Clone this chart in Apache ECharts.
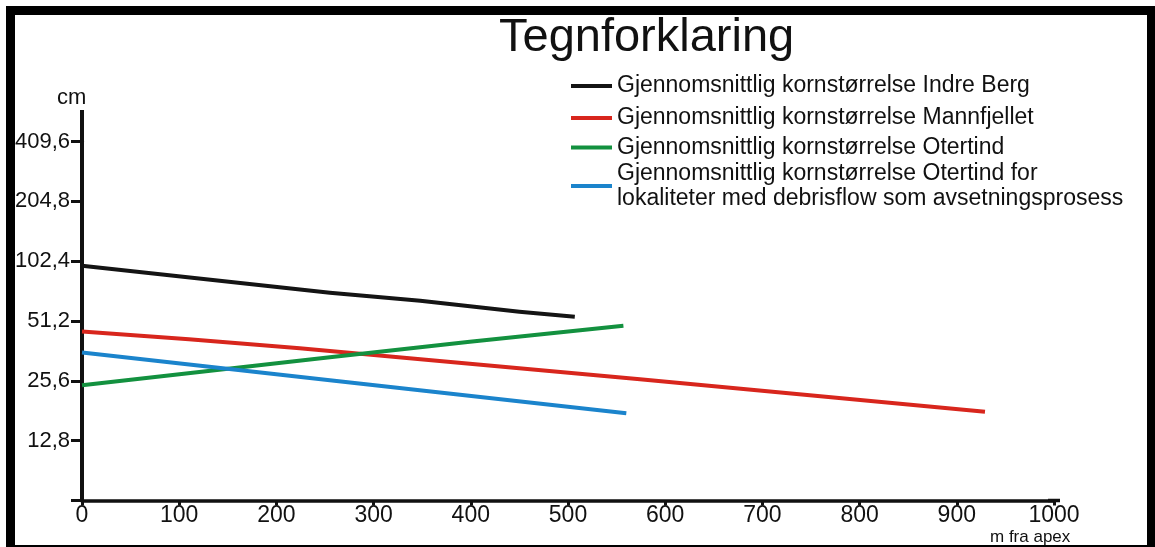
<!DOCTYPE html>
<html>
<head>
<meta charset="utf-8">
<title>Gjennomsnittlig kornstørrelse</title>
<script src="https://cdn.jsdelivr.net/npm/echarts@6/dist/echarts.min.js"></script>
<style>
  html, body { margin: 0; padding: 0; background: #ffffff; }
  #chart { width: 1155px; height: 547px; }
</style>
</head>
<body>
<div id="chart"></div>
<script>
// Distance from apex (m) and mean grain size (cm) for each site
const indreBergDist = [0, 255, 348, 450, 507];
const indreBergCm   = [97.1, 71.0, 64.8, 57.0, 53.8];

const mannfjelletDist = [0, 110, 224, 574, 929];
const mannfjelletCm   = [45.3, 41.5, 37.3, 26.1, 17.9];

const otertindDist = [0, 255, 399, 557];
const otertindCm   = [24.3, 33.6, 40.3, 48.5];

const otertindDebrisDist = [0, 255, 560];
const otertindDebrisCm   = [35.5, 25.8, 17.6];

// Axis ticks
const xTicks = [0, 100, 200, 300, 400, 500, 600, 700, 800, 900, 1000];
const yTicksCm = [12.8, 25.6, 51.2, 102.4, 204.8, 409.6];

const seriesNames = [
  'Gjennomsnittlig kornstørrelse Indre Berg',
  'Gjennomsnittlig kornstørrelse Mannfjellet',
  'Gjennomsnittlig kornstørrelse Otertind',
  'Gjennomsnittlig kornstørrelse Otertind for\nlokaliteter med debrisflow som avsetningsprosess'
];
const seriesColors = ['#141414', '#d8261d', '#13913f', '#1b84cc'];

// The doubling scale (12,8 · 25,6 · 51,2 ...) lands on powers of two in millimetres,
// so the log axis runs in mm and its labels are printed back in cm.
const MM_PER_CM = 10;
const toPairs = (dist, cm) => dist.map((d, i) => [d, cm[i] * MM_PER_CM]);

const FONT = "'Liberation Sans', Arial, Helvetica, sans-serif";
const INK = '#111111';

const chart = echarts.init(document.getElementById('chart'), null, { renderer: 'canvas' });

const makeSeries = (idx, dist, cm) => ({
  name: seriesNames[idx],
  type: 'line',
  data: toPairs(dist, cm),
  showSymbol: false,
  symbol: 'none',
  lineStyle: { color: seriesColors[idx], width: 4, cap: 'butt', join: 'round' },
  itemStyle: { color: seriesColors[idx] },
  z: 3
});

chart.setOption({
  animation: false,
  backgroundColor: '#ffffff',
  title: {
    text: 'Tegnforklaring',
    left: 499,
    top: 15,
    padding: 0,
    textStyle: { fontFamily: FONT, fontSize: 47, fontWeight: 'normal', color: INK }
  },
  legend: {
    orient: 'vertical',
    left: 571,
    top: 70,
    padding: 0,
    itemGap: 0,
    itemWidth: 41,
    itemHeight: 4,
    icon: 'rect',
    selectedMode: false,
    textStyle: { fontFamily: FONT, fontSize: 23, color: INK, lineHeight: 32 },
    data: [
      { name: seriesNames[0], itemStyle: { color: seriesColors[0] } },
      { name: seriesNames[1], itemStyle: { color: seriesColors[1] } },
      { name: seriesNames[2], itemStyle: { color: seriesColors[2] },
        textStyle: { lineHeight: 27 } },
      { name: seriesNames[3], itemStyle: { color: seriesColors[3] },
        textStyle: { lineHeight: 25 } }
    ]
  },
  grid: {
    left: 82,
    right: 101,
    top: 141.5,
    bottom: 46.5,
    containLabel: false,
    outerBoundsMode: 'none'
  },
  xAxis: {
    type: 'value',
    min: xTicks[0],
    max: xTicks[xTicks.length - 1],
    interval: xTicks[1] - xTicks[0],
    axisLine: {
      show: true,
      onZero: false,
      symbol: ['none', 'rect'],
      symbolSize: [3.5, 12],
      lineStyle: { color: INK, width: 3.5 }
    },
    axisTick: { show: true, inside: false, length: 5, lineStyle: { color: INK, width: 3 } },
    axisLabel: {
      margin: 4,
      fontFamily: FONT,
      fontSize: 23,
      color: INK,
      showMinLabel: true,
      showMaxLabel: true,
      formatter: function (v) { return String(v); }
    },
    splitLine: { show: false }
  },
  yAxis: {
    type: 'log',
    logBase: 2,
    min: (yTicksCm[0] / 2) * MM_PER_CM,
    max: yTicksCm[yTicksCm.length - 1] * MM_PER_CM,
    axisLine: {
      show: true,
      onZero: false,
      symbol: ['none', 'rect'],
      symbolSize: [4, 63],
      lineStyle: { color: INK, width: 4 }
    },
    axisTick: { show: true, inside: false, length: 11, lineStyle: { color: INK, width: 3 } },
    axisLabel: {
      margin: 12,
      fontFamily: FONT,
      fontSize: 22,
      color: INK,
      formatter: function (v) {
        const cm = v / MM_PER_CM;
        const hit = yTicksCm.find(t => Math.abs(t - cm) < 1e-6);
        return hit === undefined ? '' : hit.toFixed(1).replace('.', ',');
      }
    },
    splitLine: { show: false },
    minorTick: { show: false }
  },
  graphic: [
    // axis units
    { type: 'text', left: 57, top: 87, z: 10,
      style: { text: 'cm', font: '22px ' + FONT, fill: INK } },
    { type: 'text', left: 990, top: 529, z: 10,
      style: { text: 'm fra apex', font: '17px ' + FONT, fill: INK } },
    // black frame around the figure
    { type: 'rect', z: 100, shape: { x: 6, y: 6, width: 9, height: 541 }, style: { fill: '#000' } },
    { type: 'rect', z: 100, shape: { x: 6, y: 6, width: 1149, height: 9 }, style: { fill: '#000' } },
    { type: 'rect', z: 100, shape: { x: 1147, y: 6, width: 8, height: 541 }, style: { fill: '#000' } },
    { type: 'rect', z: 100, shape: { x: 6, y: 545, width: 1149, height: 2 }, style: { fill: '#000' } }
  ],
  series: [
    makeSeries(0, indreBergDist, indreBergCm),
    makeSeries(1, mannfjelletDist, mannfjelletCm),
    makeSeries(2, otertindDist, otertindCm),
    makeSeries(3, otertindDebrisDist, otertindDebrisCm)
  ]
});
</script>
</body>
</html>
